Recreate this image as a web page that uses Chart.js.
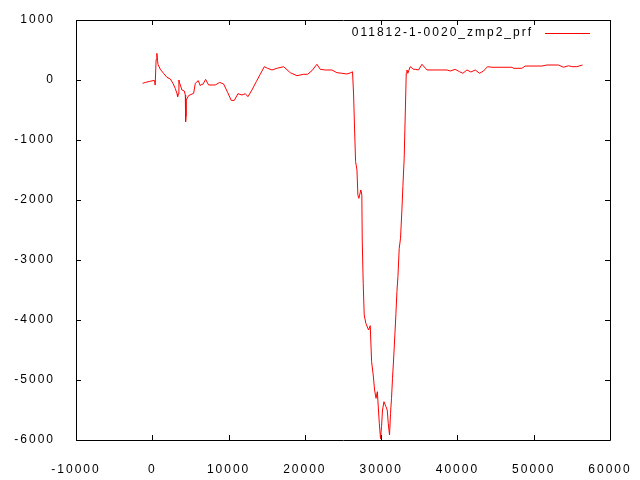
<html>
  <head>
    <script src="https://cdn.jsdelivr.net/npm/chart.js@4.4.1/dist/chart.umd.min.js"></script>
    <style>
      body { margin:0; background:#fff; }
      #wrap { width:640px; height:480px; }
    </style>
  </head>
  <body>
    <div id="wrap"><canvas id="canvas" width="640" height="480"></canvas></div>
    <script>
      // profile
      var seriesLabel = "011812-1-0020_zmp2_prf";
      var xs = [-1270,-900,-400,100,300,380,500,600,680,750,1050,1480,1920,2360,2710,3010,3250,3320,3420,3490,3550,3670,3890,4190,4330,4370,4420,4460,4760,5420,5640,6030,6290,6450,6640,6990,7380,8260,8830,9350,9870,10350,10750,11230,11750,12190,12540,13060,13630,14150,14680,15110,15690,16340,17210,18090,18960,19830,20360,20930,21580,22020,22670,23550,24200,24860,25520,26040,26250,26390,26520,26650,26830,26950,27080,27340,27470,27520,27650,27780,28000,28350,28570,28750,28960,29140,29330,29500,29760,29920,30050,30180,30370,30630,30800,30930,31100,31230,31360,31490,31630,31800,31940,32070,32200,32370,32540,32720,32850,33020,33160,33290,33380,33500,33810,34250,34470,34900,35350,36010,38630,39060,39710,40280,40720,41250,41770,42330,42900,43420,43950,44520,47140,47360,48450,48880,51070,51720,53250,53900,54560,55000,55650,56400];
      var ys = [-55,-40,-25,-10,-10,-85,340,445,330,260,180,110,45,17,-55,-140,-230,-280,-230,0,-40,-83,-167,-183,-250,-695,-600,-333,-260,-222,-55,-10,-95,-70,-72,10,-83,-83,-40,-67,-205,-340,-340,-228,-250,-228,-278,-167,-28,95,222,195,167,195,222,122,72,95,95,155,262,178,167,167,122,112,100,122,138,-250,-833,-1360,-1500,-1920,-1972,-1833,-1920,-2667,-3389,-3917,-4055,-4167,-4095,-4695,-4917,-5167,-5305,-5195,-5722,-5980,-5778,-5500,-5361,-5445,-5500,-5722,-5917,-5555,-5305,-4972,-4667,-4250,-3889,-3528,-3278,-2805,-2638,-2167,-1778,-1305,-583,112,167,112,222,178,178,167,262,167,167,150,178,138,112,167,133,167,112,150,222,212,212,195,195,233,233,250,250,212,238,222,222,250];
      var xTicks = [-10000,0,10000,20000,30000,40000,50000,60000];
      var yTicks = [1000,0,-1000,-2000,-3000,-4000,-5000,-6000];

      var points = [];
      for (var i = 0; i < xs.length; i++) points.push({x: xs[i], y: ys[i]});

      var FONT = "12px 'Liberation Sans', Arial, sans-serif";

      var spacing = {
        id: 'spacing',
        beforeUpdate: function(c){ c.ctx.letterSpacing = '2px'; },
        beforeDraw: function(c){ c.ctx.letterSpacing = '2px'; }
      };

      // gnuplot style frame, inward ticks and key
      var frame = {
        id: 'frame',
        afterDraw: function(c){
          var ctx = c.ctx, a = c.chartArea, t = 5;
          var sx = c.scales.x, sy = c.scales.y;
          ctx.save();
          ctx.strokeStyle = '#000';
          ctx.lineWidth = 1;
          ctx.beginPath();
          ctx.rect(Math.round(a.left) + 0.5, Math.round(a.top) + 0.5, Math.round(a.right - a.left), Math.round(a.bottom - a.top));
          xTicks.forEach(function(v){
            var p = Math.round(sx.getPixelForValue(v)) + 0.5;
            ctx.moveTo(p, a.bottom); ctx.lineTo(p, a.bottom - t);
            ctx.moveTo(p, a.top); ctx.lineTo(p, a.top + t);
          });
          yTicks.forEach(function(v){
            var p = Math.round(sy.getPixelForValue(v)) + 0.5;
            ctx.moveTo(a.left, p); ctx.lineTo(a.left + t, p);
            ctx.moveTo(a.right, p); ctx.lineTo(a.right - t, p);
          });
          ctx.stroke();

          var ds = c.data.datasets[0];
          ctx.letterSpacing = '2px';
          ctx.font = FONT;
          ctx.fillStyle = '#000';
          ctx.textAlign = 'right';
          ctx.textBaseline = 'middle';
          ctx.fillText(ds.label, 533, 33);
          ctx.strokeStyle = ds.borderColor;
          ctx.beginPath();
          ctx.moveTo(545, 33.5); ctx.lineTo(590, 33.5);
          ctx.stroke();
          ctx.restore();
        }
      };

      function plain(v){ return String(v); }

      window.onload = function(){
        var ctx = document.getElementById("canvas");
        new Chart(ctx, {
          type: 'line',
          data: {
            datasets: [{
              label: seriesLabel,
              data: points,
              borderColor: '#ff0000',
              borderWidth: 1,
              pointRadius: 0,
              tension: 0,
              fill: false
            }]
          },
          options: {
            responsive: false,
            animation: false,
            events: [],
            layout: { padding: { left: 0, right: 30, top: 20, bottom: 0 } },
            plugins: { legend: { display: false }, tooltip: { enabled: false } },
            scales: {
              x: {
                type: 'linear',
                min: -10000, max: 60000,
                afterFit: function(s){ s.height = 40; s.paddingLeft = 0; s.paddingRight = 0; },
                afterBuildTicks: function(s){ s.ticks = xTicks.map(function(v){ return {value: v}; }); },
                grid: { display: false },
                border: { display: false },
                ticks: { autoSkip: false, maxRotation: 0, padding: 14, color: '#000', callback: plain, font: { family: "'Liberation Sans', Arial, sans-serif", size: 12 } }
              },
              y: {
                type: 'linear',
                min: -6000, max: 1000,
                afterFit: function(s){ s.width = 76; s.paddingTop = 0; s.paddingBottom = 0; },
                afterBuildTicks: function(s){ s.ticks = yTicks.map(function(v){ return {value: v}; }); },
                grid: { display: false },
                border: { display: false },
                ticks: { autoSkip: false, padding: 13, color: '#000', callback: plain, font: { family: "'Liberation Sans', Arial, sans-serif", size: 12 } }
              }
            }
          },
          plugins: [spacing, frame]
        });
      };
    </script>
  </body>
</html>
